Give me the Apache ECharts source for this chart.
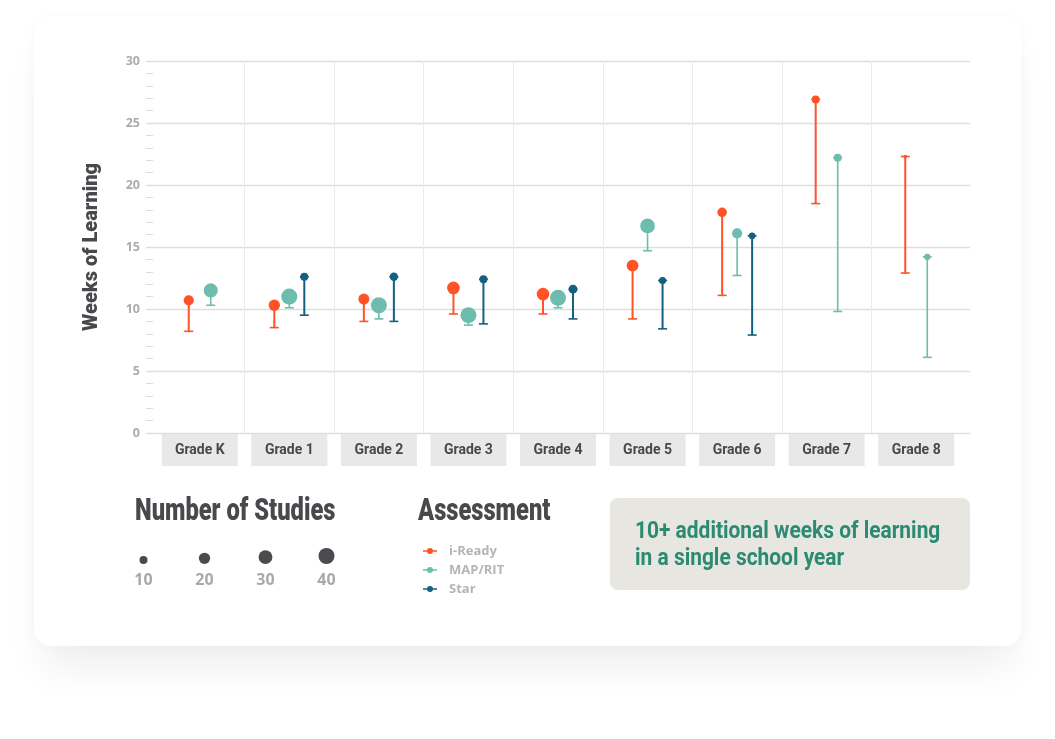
<!DOCTYPE html>
<html lang="en">
<head>
  <meta charset="UTF-8">
  <title>Weeks of Learning by Grade</title>
  <script src="https://cdn.jsdelivr.net/npm/echarts@6/dist/echarts.min.js"></script>
  <style>
    body {
      margin: 0;
      background: #ffffff;
    }
    #card {
      position: absolute;
      left: 34px;
      top: 16px;
      width: 987px;
      height: 630px;
      background: #ffffff;
      border-radius: 16px;
      box-shadow: 0 30px 40px -10px rgba(0, 0, 0, 0.07), 0 0 12px rgba(0, 0, 0, 0.025);
    }
    #chart {
      position: absolute;
      left: 0;
      top: 0;
      width: 1055px;
      height: 739px;
    }
  </style>
</head>
<body>
  <div id="card"></div>
  <div id="chart"></div>

  <script>
    // values
    const grades = ['Grade K', 'Grade 1', 'Grade 2', 'Grade 3', 'Grade 4', 'Grade 5', 'Grade 6', 'Grade 7', 'Grade 8'];

    const iReadyTop = [10.7, 10.3, 10.8, 11.7, 11.2, 13.5, 17.8, 26.9, 22.3];
    const iReadyLow = [8.2, 8.5, 9.0, 9.6, 9.6, 9.2, 11.1, 18.5, 12.9];
    const iReadyStudies = [16, 20, 19, 25, 25, 22, 14, 10, 2];

    const mapTop = [11.5, 11.0, 10.3, 9.5, 10.9, 16.7, 16.1, 22.2, 14.2];
    const mapLow = [10.3, 10.1, 9.2, 8.7, 10.1, 14.7, 12.7, 9.8, 6.1];
    const mapStudies = [31, 40, 40, 40, 40, 34, 16, 10, 6];

    const starTop = [null, 12.6, 12.6, 12.4, 11.6, 12.3, 15.9, null, null];
    const starLow = [null, 9.5, 9.0, 8.8, 9.2, 8.4, 7.9, null, null];
    const starStudies = [null, 10, 11, 10, 12, 8, 7, null, null];

    const studyLegend = [10, 20, 30, 40];
    const yTicks = [0, 5, 10, 15, 20, 25, 30];

    const assessments = [
      { name: 'i-Ready', top: iReadyTop, low: iReadyLow, n: iReadyStudies, color: '#ff5227', width: 2 },
      { name: 'MAP/RIT', top: mapTop, low: mapLow, n: mapStudies, color: '#6dbcad', width: 1.6 },
      { name: 'Star', top: starTop, low: starLow, n: starStudies, color: '#14607f', width: 2 }
    ];

    const narrow = 'Roboto, "Noto Sans", sans-serif';
    const plain = '"Open Sans", "DejaVu Sans", sans-serif';

    function dotSize(n) {
      return 2.53 * Math.sqrt(n);
    }

    // which slot an assessment takes inside its grade
    function slotOffset(seriesIdx, gradeIdx) {
      const present = [];
      assessments.forEach(function (a, k) {
        if (a.top[gradeIdx] != null) present.push(k);
      });
      const slot = present.indexOf(seriesIdx);
      const step = present.length === 3 ? 15 : 22;
      return (slot - (present.length - 1) / 2) * step;
    }

    function makeRenderer(seriesIdx) {
      const a = assessments[seriesIdx];
      return function (params, api) {
        const g = api.value(0);
        const top = api.coord([g, api.value(1)]);
        const low = api.coord([g, api.value(2)]);
        const x = top[0] + slotOffset(seriesIdx, g);
        const r = dotSize(api.value(3)) / 2;
        const cap = { stroke: a.color, lineWidth: 1.6 };
        return {
          type: 'group',
          children: [
            { type: 'line', shape: { x1: x, y1: top[1], x2: x, y2: low[1] }, style: { stroke: a.color, lineWidth: a.width } },
            { type: 'line', shape: { x1: x - 4.5, y1: low[1], x2: x + 4.5, y2: low[1] }, style: cap },
            { type: 'line', shape: { x1: x - 4.5, y1: top[1], x2: x + 4.5, y2: top[1] }, style: cap },
            { type: 'circle', shape: { cx: x, cy: top[1], r: r }, style: { fill: a.color } }
          ]
        };
      };
    }

    const chart = echarts.init(document.getElementById('chart'));

    const series = assessments.map(function (a, k) {
      const data = [];
      grades.forEach(function (gr, i) {
        if (a.top[i] != null) data.push([i, a.top[i], a.low[i], a.n[i]]);
      });
      const s = {
        name: a.name,
        type: 'custom',
        xAxisIndex: 0,
        yAxisIndex: 0,
        itemStyle: { color: a.color },
        renderItem: makeRenderer(k),
        data: data,
        z: 5
      };
      if (k === 0) {
        // vertical separators between grades
        s.markLine = {
          silent: true,
          symbol: 'none',
          label: { show: false },
          lineStyle: { color: '#ebebeb', width: 1, type: 'solid' },
          data: [0.5, 1.5, 2.5, 3.5, 4.5, 5.5, 6.5, 7.5].map(function (v) { return { xAxis: v }; }),
          z: 1
        };
      }
      return s;
    });

    // size legend bubbles
    series.push({
      type: 'custom',
      xAxisIndex: 2,
      yAxisIndex: 2,
      silent: true,
      renderItem: function (params, api) {
        const p = api.coord([api.value(0), 0]);
        const r = dotSize(api.value(1)) / 2;
        return { type: 'circle', shape: { cx: p[0], cy: p[1] - r, r: r }, style: { fill: '#4a4a4f' } };
      },
      data: studyLegend.map(function (n, i) { return [i, n]; })
    });

    const icon = 'path://M0,3.2H14V4.8H0Z M7,1A3,3 0 1 1 6.99,1Z';

    chart.setOption({
      animation: false,
      color: assessments.map(function (a) { return a.color; }),
      grid: [
        { left: 146, right: 85, top: 61, bottom: 306 },
        { left: 155, right: 94, top: 61, bottom: 306 },
        { left: 113, width: 244, top: 540, height: 24 }
      ],
      xAxis: [
        {
          type: 'value', gridIndex: 0, min: -0.6, max: 8.6,
          axisLine: { show: false }, axisTick: { show: false },
          axisLabel: { show: false }, splitLine: { show: false }
        },
        {
          type: 'category', gridIndex: 1, data: grades,
          axisLine: { show: false }, axisTick: { show: false },
          axisLabel: {
            margin: 1,
            width: 76,
            height: 32,
            lineHeight: 32,
            align: 'center',
            backgroundColor: '#e8e8e8',
            color: '#48484d',
            fontFamily: narrow,
            fontWeight: 'bold',
            fontSize: 14
          }
        },
        {
          type: 'category', gridIndex: 2, data: studyLegend.map(String),
          axisLine: { show: false }, axisTick: { show: false },
          axisLabel: { margin: 8, color: '#a9a9a9', fontFamily: plain, fontWeight: 'bold', fontSize: 16 }
        }
      ],
      yAxis: [
        {
          type: 'value', gridIndex: 0, min: yTicks[0], max: yTicks[yTicks.length - 1], interval: 5,
          name: 'Weeks of Learning',
          nameLocation: 'middle',
          nameGap: 44,
          nameTextStyle: { color: '#48484d', fontFamily: narrow, fontWeight: 900, fontSize: 20 },
          axisLine: { show: false, onZero: false },
          axisTick: { show: false, inside: true },
          minorTick: { show: true, splitNumber: 5, length: 7, lineStyle: { color: '#dcdcdc', width: 1 } },
          axisLabel: { margin: 6, color: '#acacac', fontFamily: plain, fontWeight: 'bold', fontSize: 12.5 },
          splitLine: { lineStyle: { color: '#dedede', width: 1.3 } }
        },
        { type: 'value', gridIndex: 1, min: 0, max: 30, show: false },
        { type: 'value', gridIndex: 2, min: 0, max: 1, show: false }
      ],
      legend: {
        orient: 'vertical',
        left: 418,
        top: 539,
        itemWidth: 14,
        itemHeight: 6,
        itemGap: 5,
        selectedMode: false,
        textStyle: { color: '#b5b5b5', fontFamily: plain, fontWeight: 'bold', fontSize: 13, padding: [0, 0, 0, 7], lineHeight: 14 },
        data: assessments.map(function (a) { return { name: a.name, icon: icon }; })
      },
      graphic: [
        {
          type: 'text', x: 135, y: 496, scaleX: 0.74,
          style: { text: 'Number of Studies', fill: '#48484d', font: '900 32px ' + narrow }
        },
        {
          type: 'text', x: 418, y: 496, scaleX: 0.74,
          style: { text: 'Assessment', fill: '#48484d', font: '900 32px ' + narrow }
        },
        {
          type: 'rect', x: 610, y: 498,
          shape: { x: 0, y: 0, width: 360, height: 92, r: 8 }, style: { fill: '#e8e6e1' }
        },
        {
          type: 'text', x: 635, y: 519, scaleX: 0.91,
          style: {
            text: '10+ additional weeks of learning\nin a single school year',
            fill: '#2a8b72', font: 'bold 23px ' + narrow, lineHeight: 27
          }
        }
      ],
      series: series
    });
  </script>
</body>
</html>
